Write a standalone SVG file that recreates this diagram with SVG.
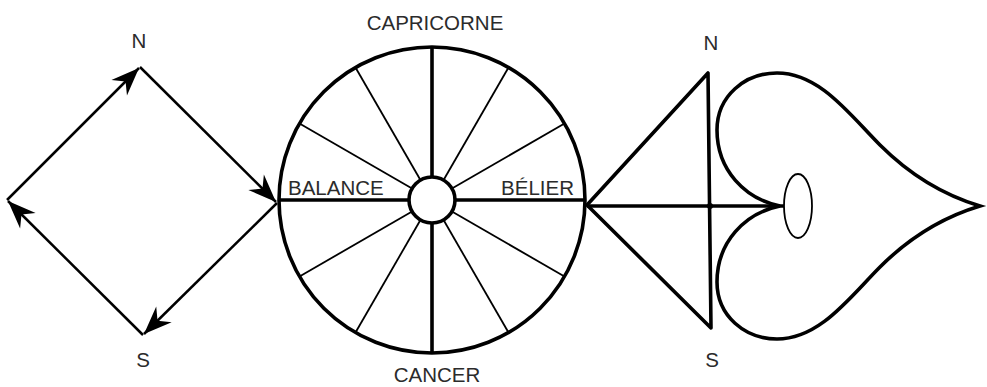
<svg xmlns="http://www.w3.org/2000/svg" width="987" height="387" viewBox="0 0 987 387">
  <style>
    .lbl { font-family: "Liberation Sans", Arial, sans-serif; font-size: 20.5px; fill: #2b2b2b; }
    .mid { text-anchor: middle; }
    .edge { fill: none; stroke: #000; stroke-width: 2.5; }
    .thick { fill: none; stroke: #000; stroke-width: 3.6; }
    .thin { fill: none; stroke: #000; stroke-width: 1.8; }
  </style>
  <defs>
    <marker id="arrow" viewBox="-30 -13 32 26" refX="0" refY="0" markerUnits="userSpaceOnUse" markerWidth="32" markerHeight="26" orient="auto">
      <path d="M0,0 L-28,-11 L-19,0 L-28,11 Z" fill="#000"/>
    </marker>
  </defs>
  <rect width="987" height="387" fill="#fff"/>

  <g id="compass-left">
    <text class="lbl mid" x="139" y="48">N</text>
    <text class="lbl mid" x="143" y="367">S</text>
  </g>

  <g id="connectors">
    <line class="edge" x1="7" y1="200" x2="139" y2="68" marker-end="url(#arrow)"/>
    <line class="edge" x1="140" y1="67" x2="276" y2="202" marker-end="url(#arrow)"/>
    <line class="edge" x1="277" y1="203" x2="144" y2="334" marker-end="url(#arrow)"/>
    <line class="edge" x1="143" y1="335" x2="8" y2="201" marker-end="url(#arrow)"/>
  </g>

  <g id="wheel">
    <circle class="thick" cx="432" cy="200" r="153"/>
    <g transform="translate(432,200)">
      <line class="thick" x1="0" y1="-24" x2="0" y2="-153"/>
      <line class="thick" x1="0" y1="24" x2="0" y2="153"/>
      <line class="thick" x1="-24" y1="0" x2="-153" y2="0"/>
      <line class="thick" x1="24" y1="0" x2="153" y2="0"/>
      <g class="thin">
        <line x1="12" y1="-20.8" x2="76.5" y2="-132.5"/>
        <line x1="20.8" y1="-12" x2="132.5" y2="-76.5"/>
        <line x1="20.8" y1="12" x2="132.5" y2="76.5"/>
        <line x1="12" y1="20.8" x2="76.5" y2="132.5"/>
        <line x1="-12" y1="20.8" x2="-76.5" y2="132.5"/>
        <line x1="-20.8" y1="12" x2="-132.5" y2="76.5"/>
        <line x1="-20.8" y1="-12" x2="-132.5" y2="-76.5"/>
        <line x1="-12" y1="-20.8" x2="-76.5" y2="-132.5"/>
      </g>
      <circle class="thick" cx="0" cy="0" r="23" fill="#fff"/>
    </g>
    <text class="lbl mid" x="435" y="30">CAPRICORNE</text>
    <text class="lbl mid" x="437" y="382">CANCER</text>
    <text class="lbl" x="288" y="195">BALANCE</text>
    <text class="lbl" x="574" y="195" text-anchor="end">BÉLIER</text>
  </g>

  <g id="compass-right">
    <path class="thick" stroke-linejoin="round" d="M587,205 L708,73 L711,328 Z"/>
    <line class="thick" x1="587" y1="206" x2="784" y2="206"/>
    <circle cx="710" cy="206" r="3" fill="#000"/>
    <text class="lbl mid" x="711" y="50">N</text>
    <text class="lbl mid" x="712" y="367">S</text>
  </g>

  <g id="spade">
    <path class="thick" stroke-linejoin="miter" d="M780,206 C745,199 717,170 717,130 C717,96 745,73 777,73 C820,73 850,115 880,145 C915,180 950,197 980,206 C950,215 915,232 880,267 C850,297 820,339 777,339 C745,339 717,316 717,282 C717,242 745,213 780,206 Z"/>
    <ellipse cx="798" cy="206" rx="14" ry="32" fill="#fff" stroke="#000" stroke-width="1.8"/>
  </g>
</svg>
